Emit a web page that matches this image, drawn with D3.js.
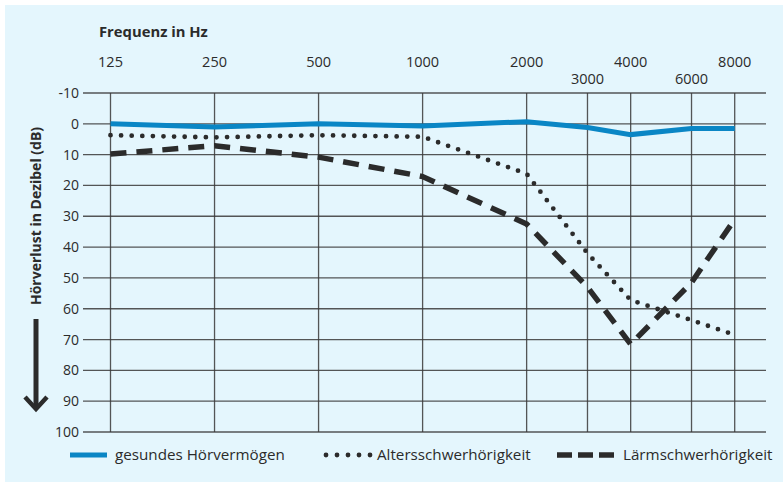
<!DOCTYPE html>
<html><head><meta charset="utf-8">
<script src="https://cdn.jsdelivr.net/npm/d3@7"></script>
<style>body{margin:0;background:#fff}svg{display:block}</style>
</head><body>
<svg id="c" width="783" height="482"></svg>
<script>
const freqs = [125, 250, 500, 1000, 2000, 3000, 4000, 6000, 8000];
const freqLabels = ["125", "250", "500", "1000", "2000", "3000", "4000", "6000", "8000"];
const lowRowFreqs = [3000, 6000];
const dbTicks = [-10, 0, 10, 20, 30, 40, 50, 60, 70, 80, 90, 100];
const healthy = [0, 1, 0, 0.7, -0.7, 1.2, 3.5, 1.5, 1.5];
const ageLoss = [3.7, 4.4, 3.7, 4.2, 16.2, 42, 57.2, 63.7, 68.5];
const noiseLoss = [9.8, 7.1, 10.8, 17.1, 32.5, 53, 71.5, 51.5, 31];
const seriesNames = ["gesundes Hörvermögen", "Altersschwerhörigkeit", "Lärmschwerhörigkeit"];

const svg = d3.select("#c");
const font = "'Open Sans', sans-serif";
const ink = "#2b2b2b";
svg.append("rect").attr("x", 5).attr("y", 5).attr("width", 778).attr("height", 477).attr("fill", "#e4f6fd");

const x = d3.scaleLog().base(2).domain([125, 8000]).range([110.5, 734.7]);
const y = d3.scaleLinear().domain([-10, 100]).range([93, 432]);
const gridLeft = 83, gridRight = 766;

// horizontal grid
svg.append("g").selectAll("line").data(dbTicks).join("line")
  .attr("x1", gridLeft).attr("x2", gridRight)
  .attr("y1", d => y(d)).attr("y2", d => y(d))
  .attr("stroke", "#3a3a3a").attr("stroke-width", 1.3).attr("opacity", 0.85);
// vertical grid
svg.append("g").selectAll("line").data(freqs).join("line")
  .attr("x1", d => x(d)).attr("x2", d => x(d))
  .attr("y1", y(-10)).attr("y2", y(100))
  .attr("stroke", "#3a3a3a").attr("stroke-width", 1.3).attr("opacity", 0.85);

// y tick labels
svg.append("g").selectAll("text").data(dbTicks).join("text")
  .attr("x", 79).attr("y", d => y(d)).attr("dy", "0.36em")
  .attr("text-anchor", "end").attr("font-family", font).attr("font-size", 14)
  .attr("fill", ink).text(d => d);

// x tick labels (top)
svg.append("g").selectAll("text").data(freqs).join("text")
  .attr("x", d => x(d)).attr("y", d => lowRowFreqs.includes(d) ? 84 : 67)
  .attr("text-anchor", "middle").attr("font-family", font).attr("font-size", 14.5)
  .attr("fill", ink).text((d, i) => freqLabels[i]);

svg.append("text").attr("x", 99).attr("y", 37).attr("font-family", font)
  .attr("font-size", 14.8).attr("font-weight", "bold").attr("fill", ink).text("Frequenz in Hz");

// y title
svg.append("text").attr("transform", "translate(41,216) rotate(-90)")
  .attr("text-anchor", "middle").attr("font-family", font).attr("font-size", 14)
  .attr("font-weight", "bold").attr("fill", ink).text("Hörverlust in Dezibel (dB)");
// arrow
svg.append("line").attr("x1", 36).attr("x2", 36).attr("y1", 319).attr("y2", 407)
  .attr("stroke", ink).attr("stroke-width", 5);
svg.append("path").attr("d", "M25,397 L36,409 L47,397").attr("fill", "none")
  .attr("stroke", ink).attr("stroke-width", 4.5);

const line = d3.line().x(d => x(d[0])).y(d => y(d[1]));
const pts = arr => freqs.map((f, i) => [f, arr[i]]);

svg.append("path").attr("d", line(pts(noiseLoss))).attr("fill", "none")
  .attr("stroke", ink).attr("stroke-width", 5.5).attr("stroke-dasharray", "16,10");
svg.append("path").attr("d", line(pts(ageLoss))).attr("fill", "none")
  .attr("stroke", ink).attr("stroke-width", 4.8).attr("stroke-linecap", "round")
  .attr("stroke-dasharray", "0,10.6");
svg.append("path").attr("d", line(pts(healthy))).attr("fill", "none")
  .attr("stroke", "#0a86c5").attr("stroke-width", 5);

// legend
const ly = 455;
svg.append("line").attr("x1", 70).attr("x2", 107).attr("y1", ly).attr("y2", ly)
  .attr("stroke", "#0a86c5").attr("stroke-width", 5);
svg.append("line").attr("x1", 326).attr("x2", 371).attr("y1", ly).attr("y2", ly)
  .attr("stroke", ink).attr("stroke-width", 4.8).attr("stroke-linecap", "round")
  .attr("stroke-dasharray", "0,11");
svg.append("line").attr("x1", 557).attr("x2", 614).attr("y1", ly).attr("y2", ly)
  .attr("stroke", ink).attr("stroke-width", 5.5).attr("stroke-dasharray", "15,6");
const lx = [115, 377, 623];
svg.append("g").selectAll("text").data(seriesNames).join("text")
  .attr("x", (d, i) => lx[i]).attr("y", ly).attr("dy", "0.36em")
  .attr("font-family", font).attr("font-size", 15.2).attr("fill", ink).text(d => d);
</script>
</body></html>
